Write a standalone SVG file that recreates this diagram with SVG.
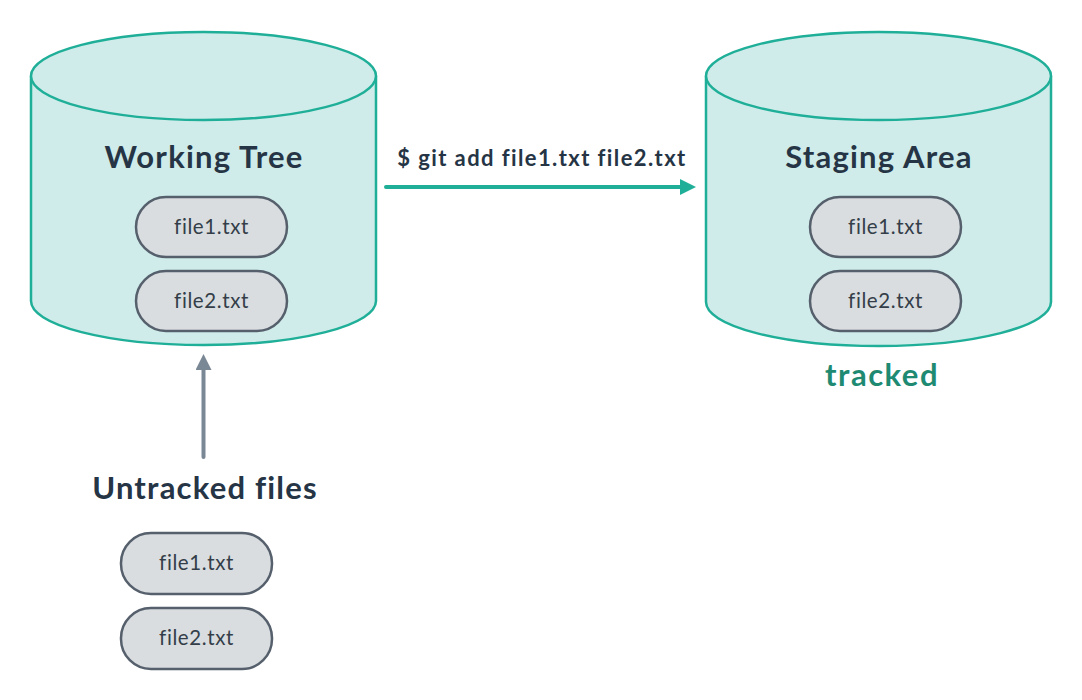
<svg xmlns="http://www.w3.org/2000/svg" width="1082" height="700" viewBox="0 0 1082 700">
<style>
.cyl{fill:#cfecea;stroke:#1faf98;stroke-width:2.5}
.pill{fill:#d9dde0;stroke:#56606c;stroke-width:2.5}
.pt{font-family:Lato,"Noto Sans",sans-serif;font-size:20.5px;letter-spacing:0.6px;fill:#343e49;text-anchor:middle}
.title{font-family:Lato,"Noto Sans",sans-serif;font-weight:bold;font-size:31px;letter-spacing:1.2px;fill:#263545;text-anchor:middle}
</style>
<defs>
<marker id="ag" viewBox="0 0 10 10" refX="5" refY="5" markerWidth="4" markerHeight="4" orient="auto" markerUnits="strokeWidth"><path d="M0,0 L10,5 L0,10 z" fill="#1faf98"/></marker>
<marker id="ay" viewBox="0 0 10 10" refX="5" refY="5" markerWidth="4" markerHeight="4" orient="auto" markerUnits="strokeWidth"><path d="M0,0 L10,5 L0,10 z" fill="#7a8795"/></marker>
</defs>
<rect width="1082" height="700" fill="#ffffff"/>
<g id="working-tree">
<path class="cyl" d="M31,76 L31,301 A172.5,44 0 0 0 376,301 L376,76"/>
<ellipse class="cyl" cx="203.5" cy="76" rx="172.5" ry="44"/>
<text class="title" x="204" y="168">Working Tree</text>
<rect class="pill" x="136" y="197" width="151" height="60" rx="30"/>
<text class="pt" x="211.5" y="233.5">file1.txt</text>
<rect class="pill" x="136" y="271" width="151" height="60" rx="30"/>
<text class="pt" x="211.5" y="307.5">file2.txt</text>
</g>
<g id="staging-area">
<path class="cyl" d="M706,76 L706,302 A172.5,44 0 0 0 1051,302 L1051,76"/>
<ellipse class="cyl" cx="878.5" cy="76" rx="172.5" ry="44"/>
<text class="title" x="879" y="168">Staging Area</text>
<rect class="pill" x="810" y="197" width="151" height="60" rx="30"/>
<text class="pt" x="885.5" y="233.5">file1.txt</text>
<rect class="pill" x="810" y="271" width="151" height="60" rx="30"/>
<text class="pt" x="885.5" y="307.5">file2.txt</text>
<text x="882" y="386" font-family="Lato,'Noto Sans',sans-serif" font-weight="bold" font-size="31" letter-spacing="1.5" fill="#1e8a72" text-anchor="middle">tracked</text>
</g>
<g id="untracked">
<text class="title" x="205" y="499">Untracked files</text>
<rect class="pill" x="121" y="533" width="151" height="61" rx="30"/>
<text class="pt" x="196.5" y="570">file1.txt</text>
<rect class="pill" x="121" y="608" width="151" height="61" rx="30"/>
<text class="pt" x="196.5" y="645">file2.txt</text>
</g>
<g id="connectors">
<line x1="386" y1="187" x2="688" y2="187" stroke="#1faf98" stroke-width="4" stroke-linecap="round" marker-end="url(#ag)"/>
<text x="542" y="166" font-family="Lato,'Noto Sans',sans-serif" font-weight="bold" font-size="22" letter-spacing="1.4" fill="#263545" text-anchor="middle">$ git add file1.txt file2.txt</text>
<line x1="203.5" y1="457" x2="203.5" y2="362" stroke="#7a8795" stroke-width="4" stroke-linecap="round" marker-end="url(#ay)"/>
</g>
</svg>
